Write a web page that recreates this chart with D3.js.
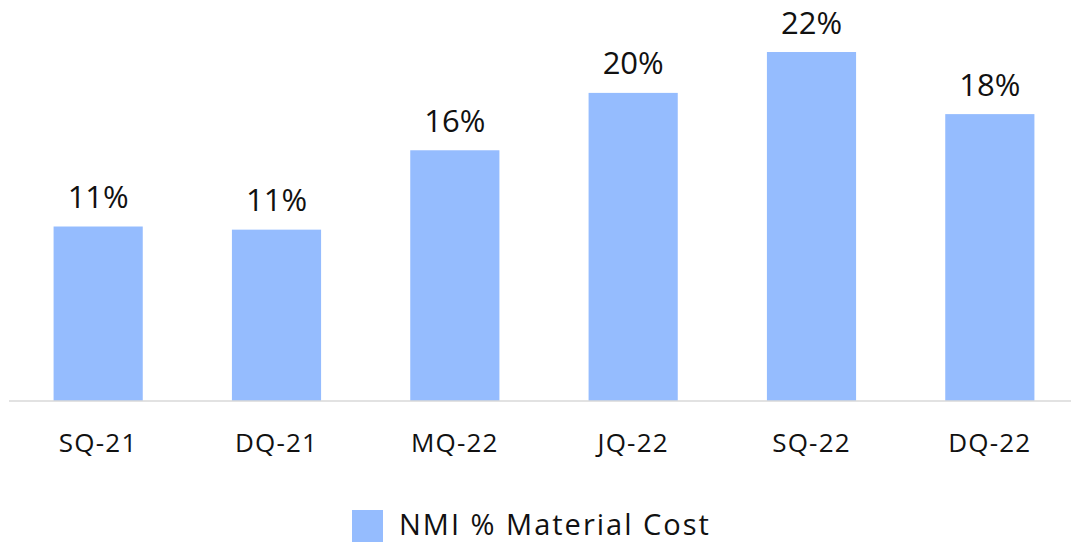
<!DOCTYPE html>
<html>
<head>
<meta charset="utf-8">
<script src="https://cdn.jsdelivr.net/npm/d3@7"></script>
<style>
  body { margin: 0; background: #fff; }
  svg { display: block; font-family: 'Open Sans', sans-serif; }
</style>
</head>
<body>
<div id="chart"></div>
<script>
const quarters = ['SQ-21', 'DQ-21', 'MQ-22', 'JQ-22', 'SQ-22', 'DQ-22']
const nmiShare = [11.1, 10.9, 15.95, 19.6, 22.2, 18.25]
const seriesName = 'NMI % Material Cost'

const width = 1071
const height = 544
const baseline = 401

const svg = d3.select('#chart')
  .append('svg')
  .attr('width', width)
  .attr('height', height)

const x = d3.scaleBand()
  .domain(quarters)
  .range([9, 1079])
  .paddingInner(0.5)
  .paddingOuter(0.25)

const y = d3.scaleLinear()
  .domain([0, 25])
  .range([baseline, 8])

const data = quarters.map((q, i) => ({ q: q, v: nmiShare[i] }))

svg.selectAll('rect.bar')
  .data(data)
  .enter()
  .append('rect')
  .attr('class', 'bar')
  .attr('x', d => x(d.q))
  .attr('y', d => y(d.v))
  .attr('width', x.bandwidth())
  .attr('height', d => baseline - y(d.v))
  .attr('fill', '#95bcfe')

// value labels
svg.selectAll('text.val')
  .data(data)
  .enter()
  .append('text')
  .attr('class', 'val')
  .attr('x', d => x(d.q) + x.bandwidth() / 2)
  .attr('y', d => y(d.v) - 18.5)
  .attr('text-anchor', 'middle')
  .attr('font-size', 31)
  .attr('fill', '#111')
  .text(d => Math.round(d.v) + '%')

// x axis
const xAxis = d3.axisBottom(x).tickSize(0).tickPadding(33)
const gx = svg.append('g')
  .attr('transform', 'translate(0,' + baseline + ')')
  .call(xAxis)
gx.select('.domain').attr('stroke', '#d9d9d9').attr('stroke-width', 1.5)
  .attr('d', 'M9,0H1071')
gx.selectAll('text')
  .attr('font-size', 26)
  .attr('font-family', '"Open Sans", sans-serif')
  .attr('letter-spacing', 1.2)
  .attr('fill', '#111')

// legend
const legend = svg.append('g').attr('transform', 'translate(352,510)')
legend.append('rect')
  .attr('width', 31)
  .attr('height', 32)
  .attr('fill', '#95bcfe')
legend.append('text')
  .attr('x', 47)
  .attr('y', 25)
  .attr('font-size', 29)
  .attr('letter-spacing', 2)
  .attr('fill', '#111')
  .text(seriesName)
</script>
</body>
</html>
